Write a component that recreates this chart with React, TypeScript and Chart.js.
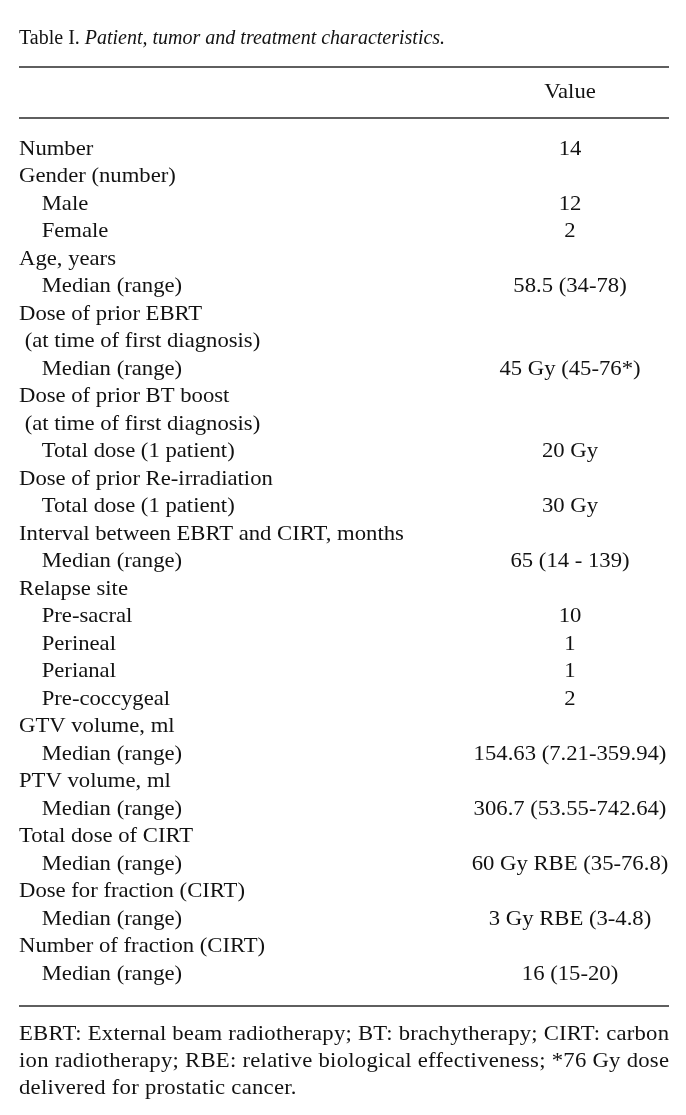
import React, { useEffect, useRef } from "react";
import { Chart, registerables } from "chart.js";

Chart.register(...registerables);

const titleLead = "Table I.";
const titleRest = "Patient, tumor and treatment characteristics.";
const columnLabels = ["Value"];

const rowLabels = [
  "Number",
  "Gender (number)",
  "Male",
  "Female",
  "Age, years",
  "Median (range)",
  "Dose of prior EBRT",
  " (at time of first diagnosis)",
  "Median (range)",
  "Dose of prior BT boost",
  " (at time of first diagnosis)",
  "Total dose (1 patient)",
  "Dose of prior Re-irradiation",
  "Total dose (1 patient)",
  "Interval between EBRT and CIRT, months",
  "Median (range)",
  "Relapse site",
  "Pre-sacral",
  "Perineal",
  "Perianal",
  "Pre-coccygeal",
  "GTV volume, ml",
  "Median (range)",
  "PTV volume, ml",
  "Median (range)",
  "Total dose of CIRT",
  "Median (range)",
  "Dose for fraction (CIRT)",
  "Median (range)",
  "Number of fraction (CIRT)",
  "Median (range)",
];

const rowIndent = [0, 0, 1, 1, 0, 1, 0, 0, 1, 0, 0, 1, 0, 1, 0, 1, 0, 1, 1, 1, 1, 0, 1, 0, 1, 0, 1, 0, 1, 0, 1];

const rowValues = [
  "14",
  "",
  "12",
  "2",
  "",
  "58.5 (34-78)",
  "",
  "",
  "45 Gy (45-76*)",
  "",
  "",
  "20 Gy",
  "",
  "30 Gy",
  "",
  "65 (14 - 139)",
  "",
  "10",
  "1",
  "1",
  "2",
  "",
  "154.63 (7.21-359.94)",
  "",
  "306.7 (53.55-742.64)",
  "",
  "60 Gy RBE (35-76.8)",
  "",
  "3 Gy RBE (3-4.8)",
  "",
  "16 (15-20)",
];

const footnoteLines = [
  "EBRT: External beam radiotherapy; BT: brachytherapy; CIRT: carbon",
  "ion radiotherapy; RBE: relative biological effectiveness; *76 Gy dose",
  "delivered for prostatic cancer.",
];

const FONT_FAMILY = '"Liberation Serif", "Times New Roman", serif';
const TITLE_SIZE = 20;
const BODY_SIZE = 21;
const STRETCH = 1.08;
const TEXT_COLOR = "#121212";
const RULE_COLOR = "#2a2a2a";
const LEFT = 19;
const RIGHT = 669;

const tablePlugin = {
  id: "tablePlugin",
  beforeDraw(chart: any) {
    const ctx = chart.ctx;
    const area = chart.chartArea;
    ctx.save();
    ctx.fillStyle = "#ffffff";
    ctx.fillRect(0, 0, chart.width, chart.height);
    ctx.strokeStyle = RULE_COLOR;
    ctx.lineWidth = 1.6;
    const rules = [67, area.top - 31, area.bottom + 32];
    rules.forEach((y) => {
      ctx.beginPath();
      ctx.moveTo(LEFT, y);
      ctx.lineTo(RIGHT, y);
      ctx.stroke();
    });
    ctx.restore();
    // the axis labels are set in a slightly wide face: stretch them horizontally, anchored at the left margin
    ctx.setTransform(STRETCH, 0, 0, 1, LEFT * (1 - STRETCH), 0);
  },
  beforeDatasetsDraw(chart: any) {
    chart.ctx.setTransform(1, 0, 0, 1, 0, 0);
  },
  afterDraw(chart: any) {
    const ctx = chart.ctx;
    const area = chart.chartArea;
    ctx.setTransform(1, 0, 0, 1, 0, 0);
    ctx.save();
    ctx.fillStyle = TEXT_COLOR;
    ctx.textBaseline = "alphabetic";
    ctx.textAlign = "left";
    // title
    ctx.font = `${TITLE_SIZE}px ${FONT_FAMILY}`;
    const lead = titleLead + " ";
    ctx.fillText(lead, LEFT, 44);
    const leadW = ctx.measureText(lead).width;
    ctx.font = `italic ${TITLE_SIZE}px ${FONT_FAMILY}`;
    ctx.fillText(titleRest, LEFT + leadW, 44);

    // column header and values
    ctx.font = `${BODY_SIZE}px ${FONT_FAMILY}`;
    ctx.textAlign = "center";
    ctx.textBaseline = "middle";
    const xScale = chart.scales.x;
    const colX = xScale.getPixelForValue(0);
    const drawStretched = (txt: string, x: number, y: number) => {
      ctx.save();
      ctx.translate(x, y);
      ctx.scale(STRETCH, 1);
      ctx.fillText(txt, 0, 0);
      ctx.restore();
    };
    drawStretched(columnLabels[0], colX, area.top - 57);
    const meta = chart.getDatasetMeta(0);
    meta.data.forEach((el: any, i: number) => {
      const txt = rowValues[i];
      if (txt) drawStretched(txt, el.x, el.y);
    });

    // footnote (justified by tracking)
    ctx.textAlign = "left";
    ctx.textBaseline = "alphabetic";
    const localW = (RIGHT - LEFT) / STRETCH;
    let lastSpacing = 0;
    footnoteLines.forEach((line, li) => {
      const y = area.bottom + 66 + li * 27;
      ctx.save();
      ctx.translate(LEFT, y);
      ctx.scale(STRETCH, 1);
      ctx.letterSpacing = "0px";
      let ls = lastSpacing;
      if (li < footnoteLines.length - 1) {
        const natural = ctx.measureText(line).width;
        ls = (localW - natural) / (line.length - 1);
        lastSpacing = ls;
      }
      ctx.letterSpacing = `${ls}px`;
      ctx.fillText(line, 0, 0);
      ctx.restore();
    });
    ctx.restore();
  },
};

export default function App() {
  const ref = useRef<HTMLCanvasElement>(null);
  useEffect(() => {
    if (!ref.current) return;
    const chart = new Chart(ref.current, {
      type: "line",
      data: {
        labels: columnLabels,
        datasets: [
          {
            data: rowValues.map((_, i) => ({ x: 0, y: i })),
            showLine: false,
            pointRadius: 0,
            pointHoverRadius: 0,
          },
        ],
      },
      options: {
        animation: false,
        responsive: false,
        devicePixelRatio: 1,
        events: [],
        layout: { padding: { left: LEFT, right: 686 - RIGHT, top: 0, bottom: 141 } },
        plugins: { legend: { display: false }, tooltip: { enabled: false }, title: { display: false } },
        scales: {
          x: {
            type: "category",
            labels: columnLabels,
            position: "top",
            offset: true,
            grid: { display: false },
            border: { display: false },
            ticks: { display: false },
            afterFit: (scale: any) => {
              scale.height = 149;
            },
          },
          y: {
            type: "category",
            labels: rowLabels,
            position: "left",
            offset: false,
            grid: { display: false },
            border: { display: false },
            ticks: {
              color: TEXT_COLOR,
              font: { family: FONT_FAMILY, size: BODY_SIZE },
              autoSkip: false,
              crossAlign: "far",
              padding: 0,
              callback: (value: any, index: number) =>
                (rowIndent[index] ? "\u2003" : "") + rowLabels[index],
            },
            afterFit: (scale: any) => {
              scale.width = 452;
            },
          },
        },
      },
      plugins: [tablePlugin],
    } as any);
    return () => chart.destroy();
  }, []);
  return (
    <div style={{ position: "fixed", left: 0, top: 0, width: 686, height: 1115, background: "#fff" }}>
      <canvas ref={ref} width={686} height={1115} style={{ display: "block" }} />
    </div>
  );
}
